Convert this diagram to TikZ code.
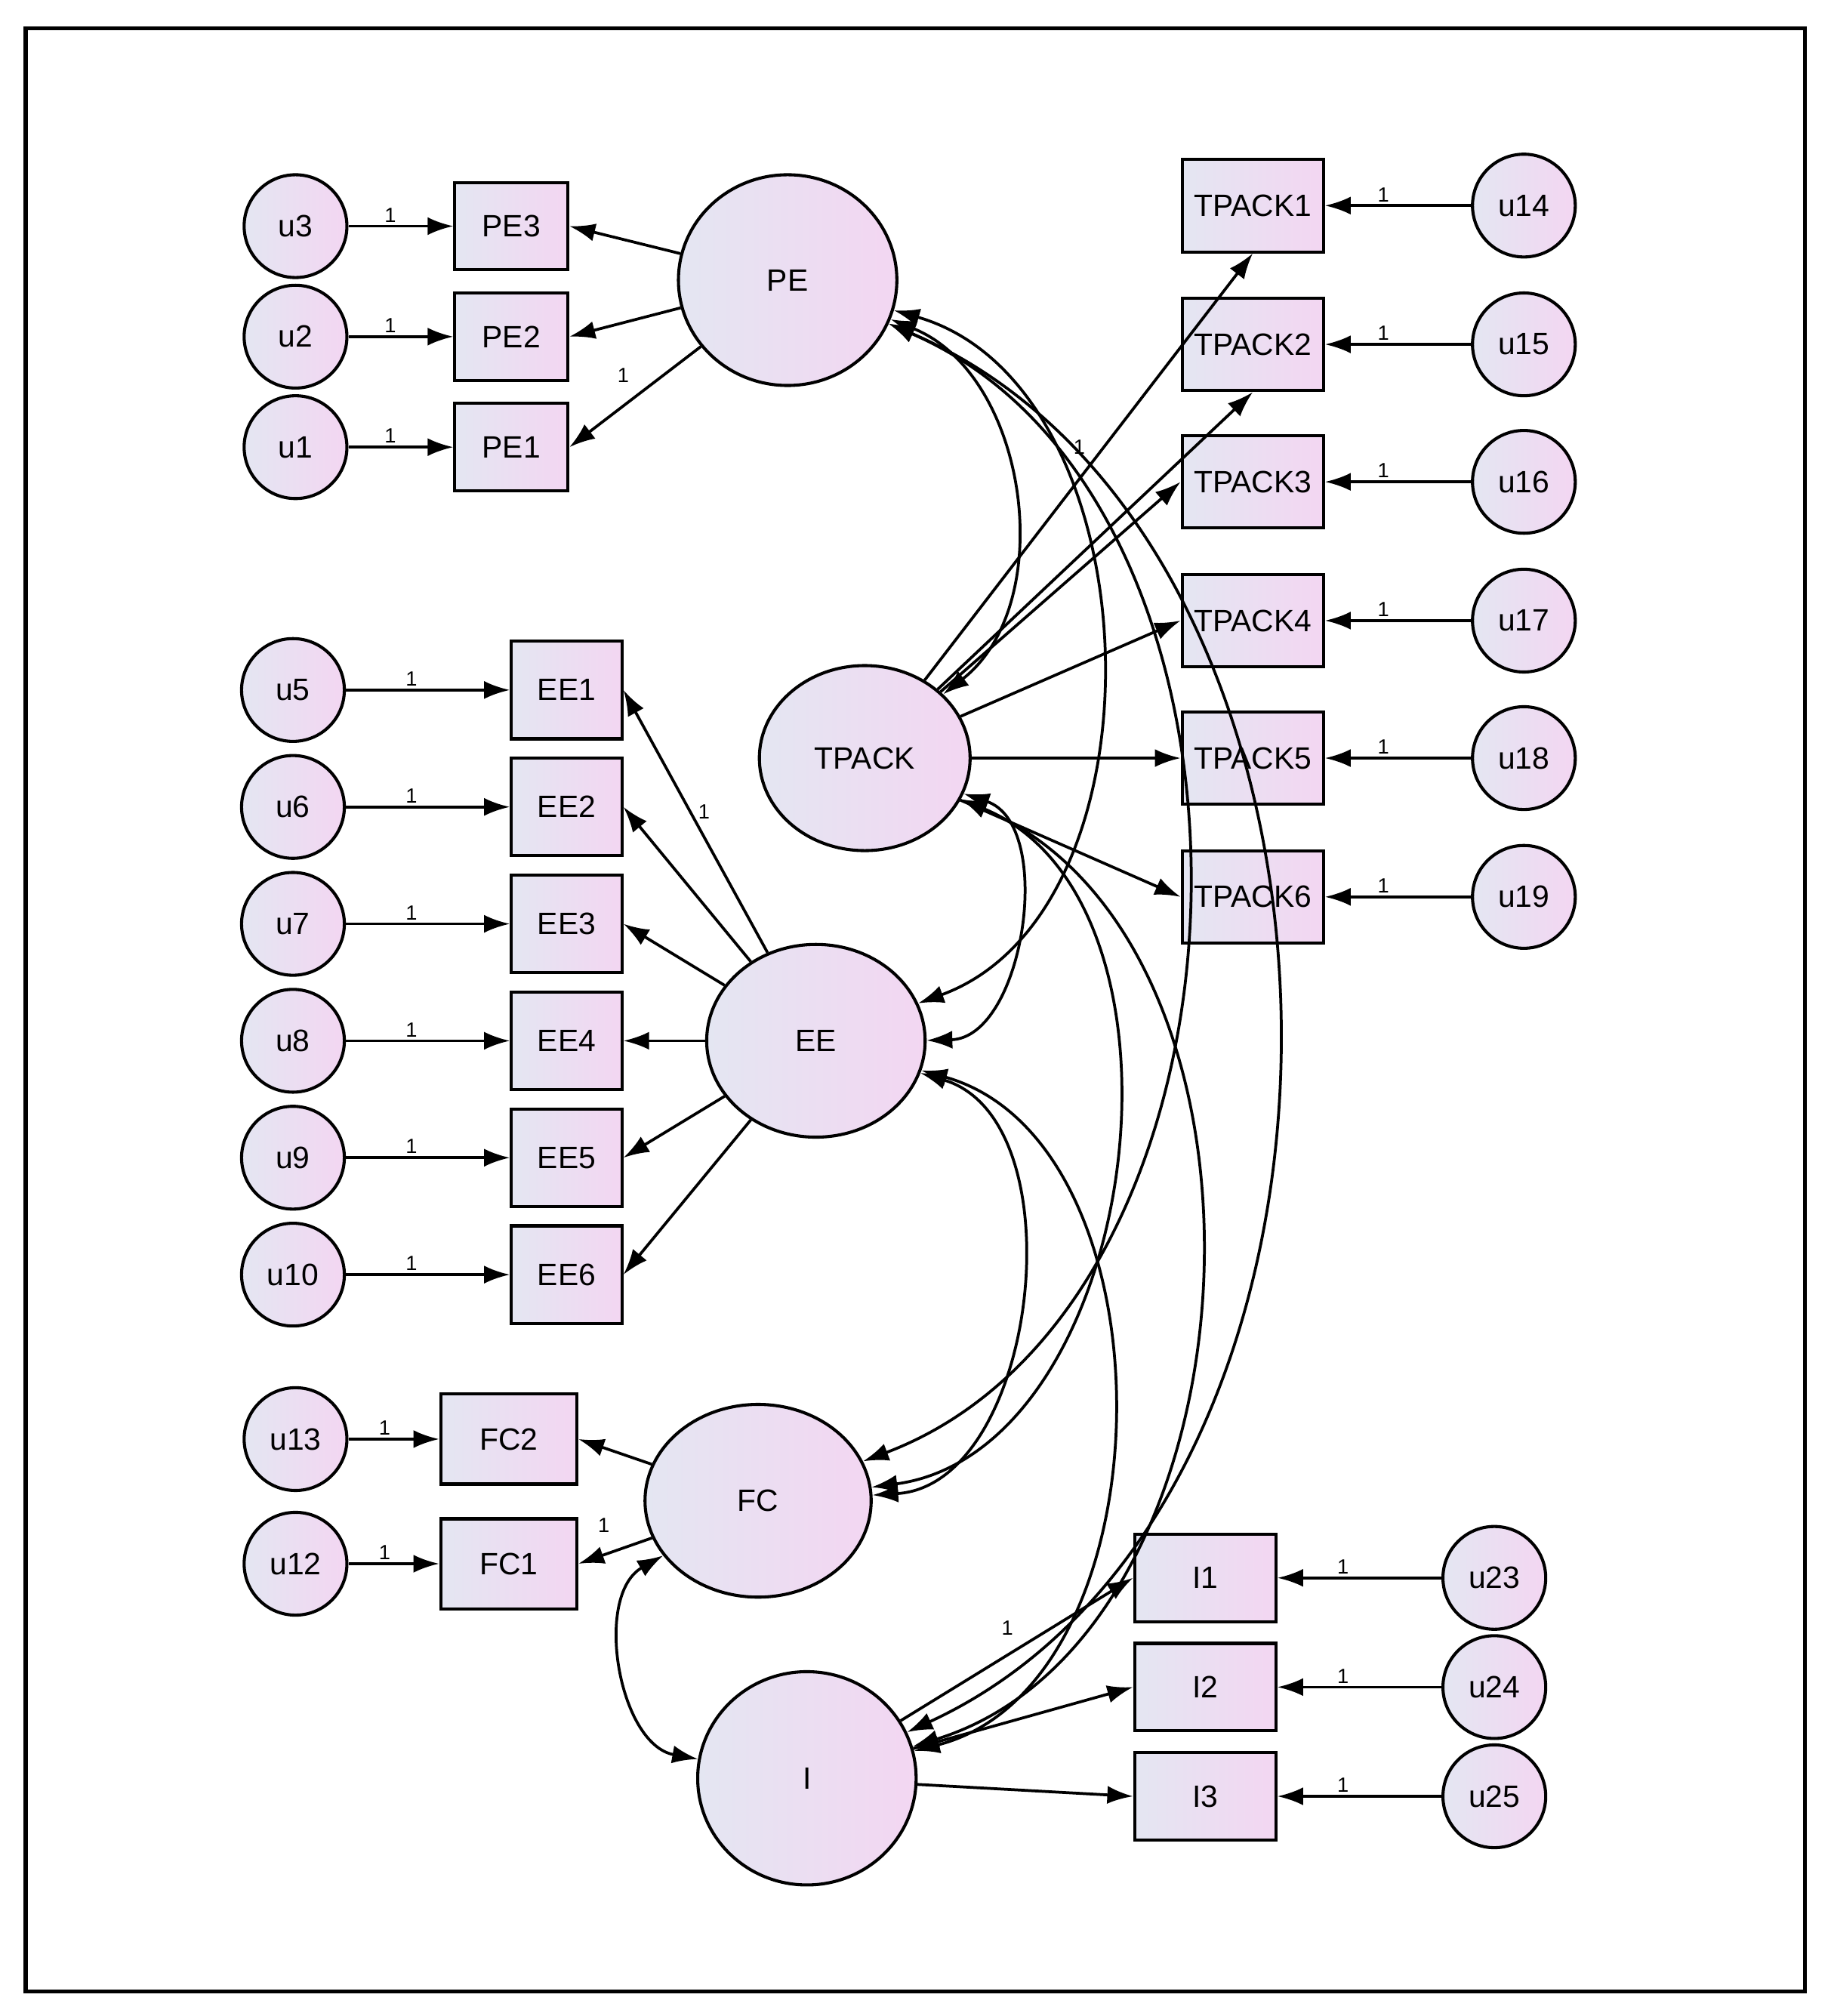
\documentclass[tikz,border=0pt]{standalone}
\usepackage{fontspec}
\setmainfont{Liberation Sans}
\usetikzlibrary{arrows.meta,shapes.geometric}
\begin{document}
\begin{tikzpicture}[x=0.5pt,y=-0.5pt,
  fillsh/.style={shading=axis,left color=lav,right color=pnk,shading angle=90,draw=black,line width=1.2pt},
  lat/.style={ellipse,fillsh,font=\fontsize{12}{14}\selectfont},
  obs/.style={rectangle,fillsh,font=\fontsize{12}{14}\selectfont,inner sep=0pt},
  err/.style={circle,fillsh,minimum size=40pt,inner sep=0pt,font=\fontsize{12}{14}\selectfont},
  arr/.style={-{Latex[length=10pt,width=7pt]},line width=1.1pt},
  cov/.style={{Latex[length=10pt,width=7pt]}-{Latex[length=10pt,width=7pt]},line width=1.1pt},
  one/.style={font=\fontsize{8}{9}\selectfont,inner sep=1pt}]
\definecolor{lav}{HTML}{E4E6F2}
\definecolor{pnk}{HTML}{F3D6F2}
\useasboundingbox (0,0) rectangle (1425,1569);
\draw[line width=1.5pt] (20,22) rectangle (1405,1550);
% latent
\node[lat,minimum width=85pt,minimum height=82pt] (PE) at (613,218) {PE};
\node[lat,minimum width=82pt,minimum height=72pt] (TP) at (673,590) {TPACK};
\node[lat,minimum width=85pt,minimum height=75pt] (EE) at (635,810) {EE};
\node[lat,minimum width=88pt,minimum height=75pt] (FC) at (590,1168) {FC};
\node[lat,minimum width=85pt,minimum height=83pt] (I) at (628,1384) {I};
% PE
\foreach \n/\y in {3/176,2/262,1/348}{
  \node[obs,minimum width=44pt,minimum height=34pt] (PE\n) at (398,\y) {PE\n};
  \node[err] (u\n) at (230,\y) {u\n};
  \draw[arr] (u\n) -- node[one,above,pos=0.4]{1} (PE\n);
  \draw[arr] (PE) -- (PE\n.east);
}
\node[one] at (485,292) {1};
% EE
\foreach \n/\u/\y in {1/5/537,2/6/628,3/7/719,4/8/810,5/9/901,6/10/992}{
  \node[obs,minimum width=43pt,minimum height=38pt] (EE\n) at (441,\y) {EE\n};
  \node[err] (u\u) at (228,\y) {u\u};
  \draw[arr] (u\u) -- node[one,above,pos=0.4]{1} (EE\n);
  \draw[arr] (EE) -- (EE\n.east);
}
\node[one] at (548,632) {1};
% FC
\foreach \n/\u/\y in {2/13/1120,1/12/1217}{
  \node[obs,minimum width=53pt,minimum height=35pt] (FC\n) at (396,\y) {FC\n};
  \node[err] (u\u) at (230,\y) {u\u};
  \draw[arr] (u\u) -- node[one,above,pos=0.4]{1} (FC\n);
  \draw[arr] (FC) -- (FC\n.east);
}
\node[one] at (470,1187) {1};
% TPACK
\foreach \n/\u/\y in {1/14/160,2/15/268,3/16/375,4/17/483,5/18/590,6/19/698}{
  \node[obs,minimum width=55pt,minimum height=36pt] (T\n) at (975,\y) {TPACK\n};
  \node[err] (u\u) at (1186,\y) {u\u};
  \draw[arr] (u\u) -- node[one,above,pos=0.6]{1} (T\n);
}
\draw[arr] (TP) -- (T1.south);
\draw[arr] (TP) -- (T2.south);
\draw[arr] (TP) -- (T3.west);
\draw[arr] (TP) -- (T4.west);
\draw[arr] (TP) -- (T5.west);
\draw[arr] (TP) -- (T6.west);
\node[one] at (840,348) {1};
% I
\foreach \n/\u/\y in {1/23/1228,2/24/1313,3/25/1398}{
  \node[obs,minimum width=55pt,minimum height=34pt] (I\n) at (938,\y) {I\n};
  \node[err] (u\u) at (1163,\y) {u\u};
  \draw[arr] (u\u) -- node[one,above,pos=0.6]{1} (I\n);
  \draw[arr] (I) -- (I\n.west);
}
\node[one] at (784,1267) {1};
% covariances
\draw[cov] (PE) to[bend left=60] (TP);
\draw[cov] (PE) to[bend left=72] (EE);
\draw[cov] (PE) to[bend left=68] (FC);
\draw[cov] (PE) to[bend left=66] (I);
\draw[cov] (TP) to[bend left=80] (EE);
\draw[cov] (TP) to[bend left=75] (FC);
\draw[cov] (TP) to[bend left=70] (I);
\draw[cov] (EE) to[bend left=80] (FC);
\draw[cov] (EE) to[bend left=75] (I);
\draw[cov] (FC) to[bend right=70] (I);
\end{tikzpicture}
\end{document}
